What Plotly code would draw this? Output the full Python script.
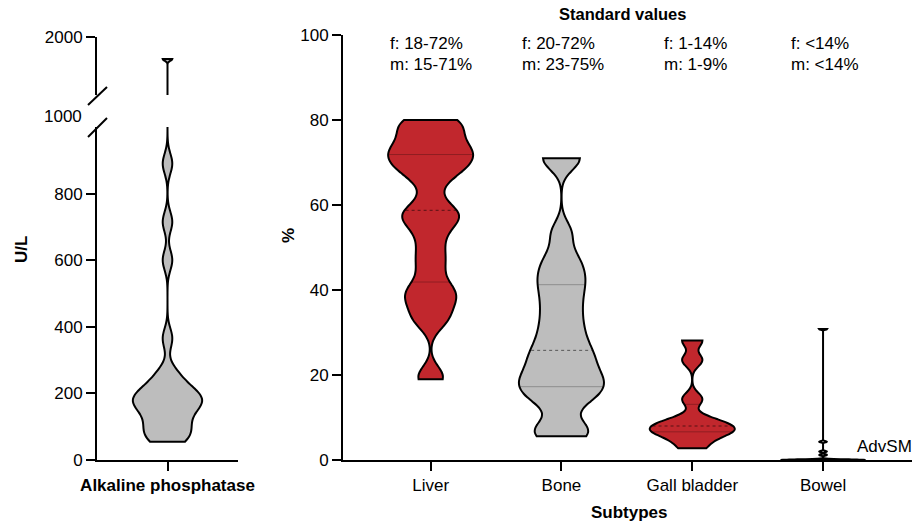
import numpy as np
import plotly.graph_objects as go

W, H = 915, 531

# ---------------- data ----------------
ALP_LABEL = "Alkaline phosphatase"
ALP_VALUES = [55, 62, 75, 90, 105, 120, 138, 155, 165, 172, 180, 187, 195, 205,
              220, 240, 265, 365, 600, 715, 890, 1620]
ALP_BANDWIDTH = 30
ALP_LOW_TICKS = [0, 200, 400, 600, 800]
ALP_HIGH_TICKS = [2000]
ALP_BREAK_LABEL = "1000"

SUBTYPES = ["Liver", "Bone", "Gall bladder", "Bowel"]
LIVER = [19, 20, 32, 33.5, 35.5, 37.5, 38.5, 40, 41, 44.5, 47, 49.5, 52.5, 55,
         56.5, 57.5, 58.5, 59, 63, 67, 67.5, 68.5, 70, 71, 71.5, 72, 73, 74, 75,
         76.5, 78, 79, 80, 80]
BONE = [5.6, 6.5, 7.8, 13.5, 15, 16.5, 18, 19, 20.5, 22.5, 24.5, 25.8, 28.5, 31,
        34, 37, 40, 42.5, 45, 48, 53.5, 71, 71]
GALL_BLADDER = [2.75, 5, 6.5, 7, 7.5, 8.5, 9.5, 14.3, 23.5, 28.1]
BOWEL = [0, 0, 0, 0, 0, 0, 0, 0, 0, 0, 0, 1.2, 2.0, 4.3, 30.8]
BANDWIDTHS = [2.5, 2.75, 1.5, 0.15]
PCT_TICKS = [0, 20, 40, 60, 80, 100]

STD_F = ["f: 18-72%", "f: 20-72%", "f: 1-14%", "f: <14%"]
STD_M = ["m: 15-71%", "m: 23-75%", "m: 1-9%", "m: <14%"]
STD_TITLE = "Standard values"
X_TITLE = "Subtypes"
LEFT_Y_TITLE = "U/L"
RIGHT_Y_TITLE = "%"
GROUP_NOTE = "AdvSM"

# ---------------- style ----------------
RED = "#C1272D"
GREY = "#BDBDBD"
FILLS = [RED, GREY, RED, GREY]
FONT = "Liberation Sans, Arial, Helvetica, sans-serif"
FS = 17
VW_RIGHT = 0.65
VW_LEFT = 0.49


def px(x):
    return x / W


def py(y):
    return 1 - y / H


def rel_density(vals, bw):
    """Same kernel density as plotly's violin, relative to its max."""
    v = np.asarray(vals, float)
    lo, hi = v.min(), v.max()
    n = int(np.ceil((hi - lo) / (bw / 3)))
    t = lo + np.arange(n + 1) * (hi - lo) / n

    def dens(x):
        x = np.atleast_1d(np.asarray(x, float))
        return np.exp(-0.5 * ((x[None, :] - v[:, None]) / bw) ** 2).sum(0)

    m = dens(t).max()
    return lambda x: dens(x) / m


fig = go.Figure()

# ---- left panel: broken axis, same violin drawn in both segments ----
for xa, ya in (("x", "y"), ("x3", "y2")):
    fig.add_trace(go.Violin(
        y=ALP_VALUES, x0=0, xaxis=xa, yaxis=ya, width=VW_LEFT,
        spanmode="hard", bandwidth=ALP_BANDWIDTH, scalemode="width",
        points=False, fillcolor=GREY, opacity=1,
        line=dict(color="black", width=2), showlegend=False,
        hoverinfo="skip"))

# ---- right panel ----
series = [LIVER, BONE, GALL_BLADDER, BOWEL]
for i, (name, vals, bw) in enumerate(zip(SUBTYPES, series, BANDWIDTHS)):
    fig.add_trace(go.Violin(
        y=vals, x0=i, name=name, xaxis="x2", yaxis="y3", width=VW_RIGHT,
        spanmode="hard", bandwidth=bw, scalemode="width",
        points=False, fillcolor=FILLS[i], opacity=1,
        line=dict(color="black", width=2), showlegend=False,
        hoverinfo="skip"))

# quartile / median lines inside violins
for i, (vals, bw) in enumerate(zip(series, BANDWIDTHS)):
    if i == 3:
        continue
    rel = rel_density(vals, bw)
    for q in (25, 50, 75):
        val = float(np.percentile(vals, q))
        hw = VW_RIGHT / 2 * float(rel(val)[0]) - 0.008
        if hw <= 0.01:
            continue
        fig.add_trace(go.Scatter(
            x=[i - hw, i + hw], y=[val, val], mode="lines", xaxis="x2", yaxis="y3",
            line=dict(color="rgba(0,0,0,0.55)" if q == 50 else "rgba(0,0,0,0.25)",
                      width=1, dash="dot" if q == 50 else "solid"),
            showlegend=False, hoverinfo="skip"))

axis_common = dict(showline=True, linecolor="black", linewidth=2, ticks="outside",
                   ticklen=9, tickwidth=2, tickcolor="black", showgrid=False,
                   zeroline=False, automargin=False,
                   tickfont=dict(family=FONT, size=FS, color="black"))

fig.update_layout(
    width=W, height=H, margin=dict(l=0, r=0, t=0, b=0, autoexpand=False),
    paper_bgcolor="white", plot_bgcolor="white",
    font=dict(family=FONT, size=FS, color="black"),
    violinmode="overlay", showlegend=False,
    xaxis=dict(domain=[px(97), px(238)], range=[-0.5, 0.5], anchor="y",
               tickvals=[0], ticktext=["<b>" + ALP_LABEL + "</b>"], **axis_common),
    yaxis=dict(domain=[py(460), py(127)], range=[0, 1000], anchor="x",
               tickvals=ALP_LOW_TICKS, **axis_common),
    xaxis3=dict(domain=[px(97), px(238)], range=[-0.5, 0.5], anchor="y2",
                visible=False, automargin=False),
    yaxis2=dict(domain=[py(95), py(37)], range=[1000, 2000], anchor="x3",
                tickvals=ALP_HIGH_TICKS, **axis_common),
    xaxis2=dict(domain=[px(343), px(912)], range=[-0.67, 3.68], anchor="y3",
                tickvals=list(range(len(SUBTYPES))), ticktext=SUBTYPES, **axis_common),
    yaxis3=dict(domain=[py(460), py(35)], range=[0, 100], anchor="x2",
                tickvals=PCT_TICKS, **axis_common),
)

ann = []


def add_text(text, x, y, xanchor="center", size=FS, angle=0):
    ann.append(dict(text=text, x=px(x), y=py(y), xref="paper", yref="paper",
                    xanchor=xanchor, yanchor="middle", showarrow=False,
                    textangle=angle, font=dict(family=FONT, size=size, color="black")))


add_text("<b>" + LEFT_Y_TITLE + "</b>", 21, 250, angle=-90)
add_text("<b>" + RIGHT_Y_TITLE + "</b>", 288, 236, angle=-90)
add_text("<b>" + STD_TITLE + "</b>", 622, 14, size=16.5)
add_text("<b>" + X_TITLE + "</b>", 629, 512)
add_text(ALP_BREAK_LABEL, 84, 117, xanchor="right")
add_text(GROUP_NOTE, 855, 446, xanchor="left")
for xs, f, m in zip([388, 520, 662, 789], STD_F, STD_M):
    add_text(f.replace("<", "&lt;"), xs, 44, xanchor="left")
    add_text(m.replace("<", "&lt;"), xs, 64.5, xanchor="left")
fig.update_layout(annotations=ann)

# axis break marks
for y0, y1 in ((105, 87), (137, 118)):
    fig.add_shape(type="line", xref="paper", yref="paper",
                  x0=px(88), y0=py(y0), x1=px(107), y1=py(y1),
                  line=dict(color="black", width=2))

fig.write_html(
    "out.html",
    config={"displayModeBar": False},
    post_script="document.body.style.margin='0';document.body.style.overflow='hidden';",
)
